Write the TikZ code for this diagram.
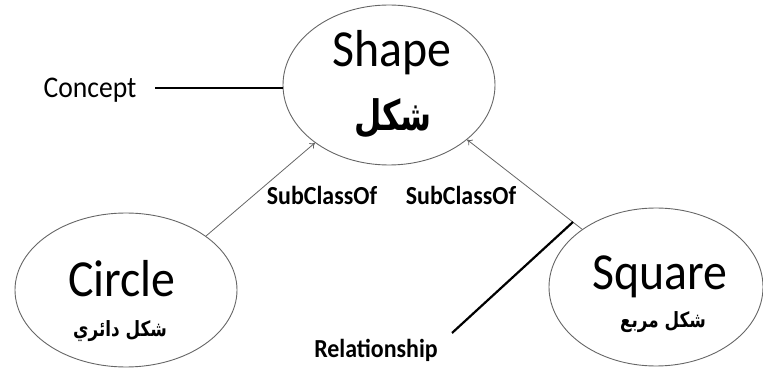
\documentclass[tikz,border=0pt]{standalone}
\usepackage{fontspec}
\setmainfont{Carlito}
\newfontfamily\arabicfont[Script=Arabic]{DejaVu Sans}
\TeXXeTstate=1
\usetikzlibrary{shapes.geometric,arrows.meta}
\begin{document}
\begin{tikzpicture}[x=1pt,y=-1pt,
  oval/.style={ellipse, draw=black!60, line width=0.9pt, inner sep=0pt},
  big/.style={font=\fontsize{52}{52}\selectfont, anchor=base, inner sep=0pt, xscale=0.92},
  lbl/.style={font=\bfseries\fontsize{26}{26}\selectfont, anchor=base, inner sep=0pt, xscale=0.92},
  arbig/.style={font=\arabicfont\bfseries\fontsize{42}{42}\selectfont, inner sep=0pt, xscale=0.75},
  ar/.style={font=\arabicfont\bfseries\fontsize{21}{21}\selectfont, inner sep=0pt, xscale=0.8},
  subarrow/.style={draw=black!60, line width=0.8pt, -{To[length=5pt,width=7pt]}},
  callout/.style={draw=black, line width=2.2pt}]
\path[use as bounding box] (0,0) rectangle (763,371);
% ellipses
\node[oval, minimum width=212pt, minimum height=160pt] (shape) at (389,85) {};
\node[oval, minimum width=222pt, minimum height=154pt] (circ) at (126,290) {};
\node[oval, minimum width=214pt, minimum height=158pt] (sq) at (656,287) {};
% texts
\node[big] (shapetxt) at (392,67) {Shape};
\node[arbig] (shapear) at (393,118) {\beginR شكل\endR};
\node[big] (circtxt) at (122,297) {Circle};
\node[ar] (circar) at (120,331) {\beginR شكل دائري\endR};
\node[big] (sqtxt) at (660,290) {Square};
\node[ar] (sqar) at (663,322) {\beginR شكل مربع\endR};
\node[font=\fontsize{30}{30}\selectfont, anchor=base, inner sep=0pt, xscale=0.92] (concept) at (90,98) {Concept};
\node[lbl] (sub1) at (322,205) {SubClassOf};
\node[lbl] (sub2) at (461,205) {SubClassOf};
\node[lbl] (rel) at (376,357) {Relationship};
% connectors
\draw[subarrow] (circ.34) -- (shape.218);
\draw[subarrow] (sq.142) -- (shape.325);
\coordinate (cstart) at (155,88);
\draw[callout] (cstart) -- (shape.west |- cstart);
\coordinate (rstart) at (452,333);
\coordinate (rend) at (573,222);
\draw[callout] (rstart) -- (rend);
\end{tikzpicture}
\end{document}
